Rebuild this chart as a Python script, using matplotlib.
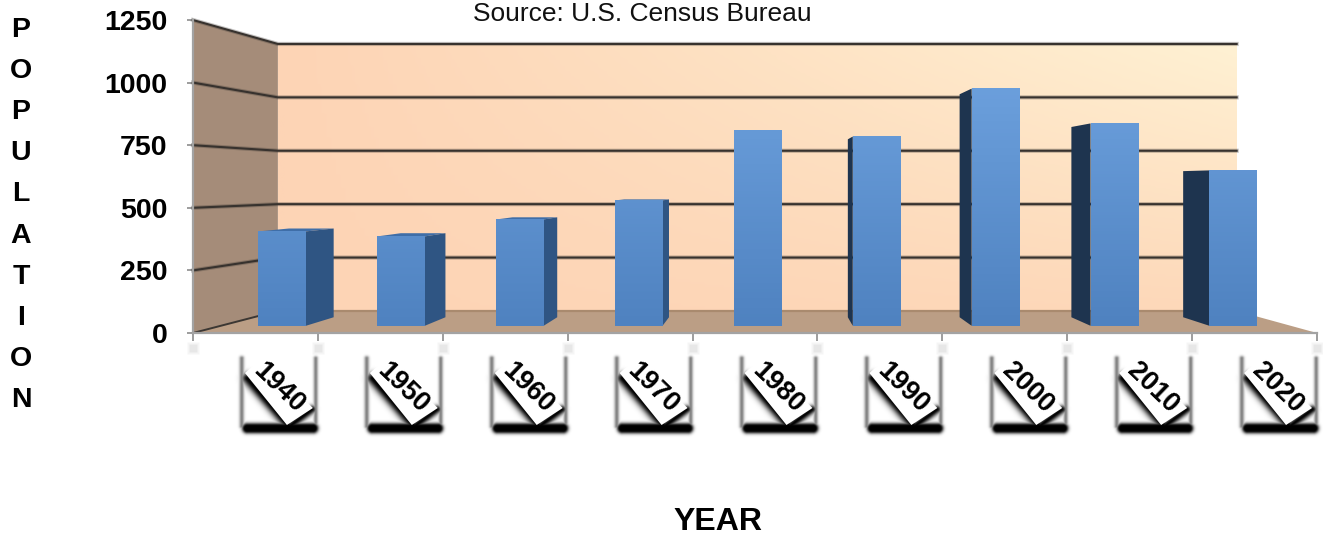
import numpy as np
import matplotlib
matplotlib.use("Agg")
import matplotlib.pyplot as plt
from matplotlib.patches import Polygon
from matplotlib.colors import LinearSegmentedColormap

years = ["1940", "1950", "1960", "1970", "1980", "1990", "2000", "2010", "2020"]
population = [396, 375, 446, 526, 819, 794, 995, 849, 652]
value_ticks = [0, 250, 500, 750, 1000, 1250]
source_text = "Source: U.S. Census Bureau"
x_title = "YEAR"
y_title = "POPULATION"

W, H = 1323, 535
plt.rcParams["font.family"] = ["Liberation Sans", "DejaVu Sans"]
fig = plt.figure(figsize=(W / 100, H / 100), dpi=100, facecolor="white")
ax = fig.add_axes([193 / W, (H - 333) / H, 1124 / W, 313 / H])

PX_X, PX_Y = 125 / 1.0, 313 / 1250
VX, VY = 4.624, 599.0      # vanishing point (category units, value units)
S_WALL, S_FRONT, S_BACK = 0.853, 0.952, 0.895


def proj(c, v, s):
    return (VX + s * (c - VX), VY + s * (v - VY))


def below(c, dx, y_px):
    """Category anchor + pixel offset, at an absolute pixel row below the axis."""
    return (c + dx / PX_X, (333 - y_px) / PX_Y)


AX_TOP = value_ticks[-1]
N = len(years)

# Back wall gradient
u, v = np.meshgrid(np.linspace(0, 1, 200), np.linspace(0, 1, 100))
t = u * (0.15 + 0.85 * v)
wall_cmap = LinearSegmentedColormap.from_list("wall", ["#fdd4b5", "#fff1d3"])
wl, wb = proj(0, 0, S_WALL)
wr, wt = proj(N, AX_TOP, S_WALL)
ax.imshow(t, origin="lower", extent=[wl, wr, wb, wt], aspect="auto", cmap=wall_cmap, zorder=1)

# Left wall and floor
ax.add_patch(Polygon([proj(0, 0, 1), proj(0, AX_TOP, 1), proj(0, AX_TOP, S_WALL), proj(0, 0, S_WALL)],
                     fc="#a58c79", ec="none", zorder=1, clip_on=False))
ax.add_patch(Polygon([proj(0, 0, 1), proj(0, 0, S_WALL), proj(N, 0, S_WALL), proj(N, 0, 1)],
                     fc="#bb9e85", ec="none", zorder=1.5, clip_on=False))

# Gridlines
for val in value_ticks:
    p0, p1, p2 = proj(0, val, 1), proj(0, val, S_WALL), proj(N, val, S_WALL)
    if val == 0:
        ax.plot([p0[0], p1[0]], [p0[1], p1[1]], color="#3c3733", lw=1.4, zorder=2, clip_on=False)
        ax.plot([p1[0], p2[0]], [p1[1], p2[1]], color="#a98a6e", lw=1.6, zorder=2, clip_on=False)
        continue
    ax.plot([p0[0], p1[0], p2[0]], [p0[1], p1[1], p2[1]], color="#3c3733", lw=3.0, alpha=0.3,
            zorder=2, solid_joinstyle="round", clip_on=False)
    ax.plot([p0[0], p1[0], p2[0]], [p0[1], p1[1], p2[1]], color="#37322e", lw=1.5,
            zorder=2, solid_joinstyle="round", clip_on=False)

# Bars
face_cmap = LinearSegmentedColormap.from_list("face", ["#4f82c0", "#6b9fdc"])
half = 0.2
shift = 0.016
for i, val in enumerate(population):
    c = i + 0.5 + shift
    l, r = c - half, c + half
    if r < VX:
        edge = r
        col = "#2f5583"
    elif l > VX:
        edge = l
        col = "#1e344f"
    else:
        edge = None
    if val < VY:
        ax.add_patch(Polygon([proj(l, val, S_FRONT), proj(r, val, S_FRONT),
                              proj(r, val, S_BACK), proj(l, val, S_BACK)],
                             fc="#3f6ea8", ec="none", zorder=3, clip_on=False))
    if edge is not None:
        ax.add_patch(Polygon([proj(edge, 0, S_FRONT), proj(edge, val, S_FRONT),
                              proj(edge, val, S_BACK), proj(edge, 0, S_BACK)],
                             fc=col, ec="none", zorder=3.1, clip_on=False))
    x0, y0 = proj(l, 0, S_FRONT)
    x1, y1 = proj(r, val, S_FRONT)
    frac = np.linspace(0, val / 1000, 64).reshape(-1, 1)
    ax.imshow(frac, origin="lower", extent=[x0, x1, y0, y1], aspect="auto",
              cmap=face_cmap, vmin=0, vmax=1, zorder=4, clip_on=False)


# Axes
for s in ("top", "right"):
    ax.spines[s].set_visible(False)
for s in ("left", "bottom"):
    ax.spines[s].set_color("#a3a3a3")
    ax.spines[s].set_linewidth(1.6)
    ax.spines[s].set_zorder(5)
ax.set_xticks(range(N + 1))
ax.set_xticklabels([])
ax.set_yticks(value_ticks)
ax.set_yticklabels([str(a) for a in value_ticks], fontsize=20.5, fontweight="bold", color="black")
ax.tick_params(axis="x", length=6, width=1.2, color="#8c8c8c")
ax.tick_params(axis="y", length=4.5, width=1.2, color="#8c8c8c", pad=14)
ax.patch.set_alpha(0)

# Fuzzy tick remnants
for i in range(N + 1):
    for size, a in [(9, 0.08), (6, 0.12)]:
        x, y = below(i, 0, 348)
        ax.plot([x], [y], marker="s", ms=size, mfc="#8a8a8a", mec="none", alpha=a,
                clip_on=False, zorder=5)


def seg_alpha(X, Y, p, q, sigma, peak, core=0.0):
    p, q = np.array(p, float), np.array(q, float)
    d = q - p
    tt = np.clip(((X - p[0]) * d[0] + (Y - p[1]) * d[1]) / (d @ d), 0, 1)
    dist = np.hypot(X - (p[0] + tt * d[0]), Y - (p[1] + tt * d[1]))
    return peak * np.exp(-(np.maximum(dist - core, 0) / sigma) ** 2)


# Shadow layer shared by all year labels (pixel offsets from the category centre)
gx, gy = np.meshgrid(np.arange(-24, 74, 0.5), np.arange(345, 445, 0.5))
shadow = np.zeros_like(gx)
segments = [
    ((-13.5, 358), (-13.5, 426), 2.4, 0.50, 0.0),
    ((60.5, 358), (60.5, 426), 2.2, 0.50, 0.0),
    ((-8, 428), (58, 428), 3.0, 1.00, 2.5),
    ((-8, 378), (33, 425), 5.5, 1.00, 0.0),
    ((57, 409), (33, 427), 4.0, 1.00, 0.0),
]
for p, q, sig, peak, core in segments:
    shadow = np.maximum(shadow, seg_alpha(gx, gy, p, q, sig, peak, core))
rgba = np.zeros(shadow.shape + (4,))
rgba[..., 3] = shadow

# Year labels with their boxed, shadowed frames
for i, yr in enumerate(years):
    c = i + 0.5
    x0, y0 = below(c, -24, 445)
    x1, y1 = below(c, 74, 345)
    ax.imshow(rgba[::-1], origin="lower", extent=[x0, x1, y0, y1], aspect="auto",
              interpolation="bilinear", zorder=6, clip_on=False)
    band = [below(c, d, y) for d, y in [(-10.5, 373), (6.5, 358), (57.5, 408), (31.5, 425)]]
    ax.add_patch(Polygon(band, fc="white", ec="none", zorder=7, clip_on=False))
    tx, ty = below(c, 23, 387.5)
    ax.text(tx, ty, yr, rotation=-44, rotation_mode="anchor", ha="center", va="center",
            fontsize=19.5, fontweight="bold", color="black", zorder=8, clip_on=False)

ax.set_xlim(0, N)
ax.set_ylim(0, AX_TOP)

# Titles
fig.text(642 / W, 1 - 14 / H, source_text, ha="center", va="center", fontsize=19, color="#111111")
fig.text(718 / W, 1 - 522 / H, x_title, ha="center", va="center", fontsize=23, fontweight="bold")
fig.text(21 / W, 1 - 215 / H, "\n".join(y_title), ha="center", va="center", fontsize=20.5,
         fontweight="bold", linespacing=1.76)

fig.savefig("out.png", dpi=100, facecolor="white")
